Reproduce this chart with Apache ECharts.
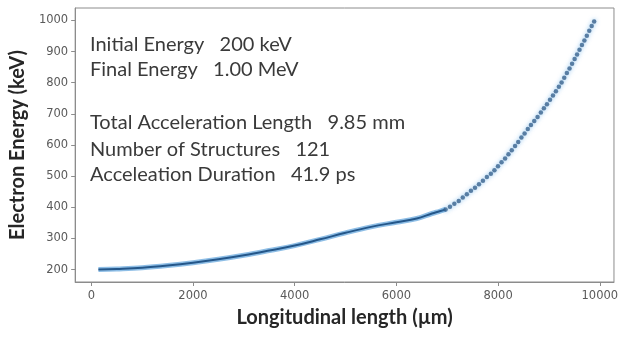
<!DOCTYPE html>
<html>
<head>
<meta charset="utf-8">
<script src="https://cdn.jsdelivr.net/npm/echarts@6/dist/echarts.min.js"></script>
<style>
html,body{margin:0;padding:0;background:#fff;}
#chart{width:621px;height:338px;}
</style>
</head>
<body>
<div id="chart"></div>
<script>
// Smooth (dense) part of the energy curve: longitudinal position (µm) and energy (keV)
const lowX = [140, 500, 1000, 1500, 2000, 2500, 3000, 3500, 4000, 4500, 5000, 5500, 6000, 6400, 6700, 6850, 6968];
const lowE = [200, 202, 206, 213, 222, 233, 246, 261, 277, 297, 318, 337, 352, 364, 380, 387, 393];

// Individually visible points above the knee
const dotX = [6968, 7054, 7140, 7226, 7306, 7386, 7466, 7546, 7624, 7702, 7780, 7858, 7928, 7998, 8068, 8138,
  8204, 8269, 8334, 8396, 8459, 8521, 8584, 8646, 8711, 8776, 8841, 8901, 8961, 9021, 9079, 9137, 9195,
  9249, 9301, 9353, 9405, 9455, 9505, 9553, 9601, 9649, 9697, 9745, 9793, 9841, 9889];
const dotE = [393, 402, 411, 420, 431, 442, 453, 463, 474, 485, 497, 508, 519, 532, 545, 557,
  570, 583, 597, 610, 624, 637, 651, 664, 677, 690, 704, 718, 731, 745, 759, 773, 787,
  801, 816, 831, 846, 861, 876, 891, 906, 921, 936, 951, 967, 982, 997];

const xTicks = [0, 2000, 4000, 6000, 8000, 10000];
const yTicks = [200, 300, 400, 500, 600, 700, 800, 900, 1000];

const notes = [
  'Initial Energy   200 keV',
  'Final Energy   1.00 MeV',
  '',
  'Total Acceleration Length   9.85 mm',
  'Number of Structures   121',
  'Acceleation Duration   41.9 ps'
];
const xName = 'Longitudinal length (\u00b5m)';
const yName = 'Electron Energy (keV)';

const lowData = lowX.map((x, i) => [x, lowE[i]]);
const dotData = dotX.map((x, i) => [x, dotE[i]]);

const chart = echarts.init(document.getElementById('chart'), null, {renderer: 'canvas'});
const noteTop = [47, 72, 98, 125, 152, 177];
const option = {
  animation: false,
  backgroundColor: '#fff',
  grid: {left: 72, right: 5, top: 8, bottom: 56, show: true, borderColor: '#8c8c8c', borderWidth: 1, backgroundColor: 'transparent'},
  xAxis: {
    type: 'value', min: -317, max: 10279,
    name: xName, nameLocation: 'middle', nameGap: 26,
    nameTextStyle: {fontFamily: 'Lato', fontWeight: 'bold', fontSize: 20, color: '#262626'},
    axisLine: {show: true, onZero: false, lineStyle: {color: '#8c8c8c', width: 1}},
    axisTick: {show: true, length: 4, customValues: xTicks, lineStyle: {color: '#8c8c8c'}},
    axisLabel: {customValues: xTicks, formatter: v => String(v), fontFamily: 'DejaVu Sans', fontSize: 11.5, color: '#5a5a5a', margin: 8},
    splitLine: {show: false}
  },
  yAxis: {
    type: 'value', min: 160, max: 1040,
    name: yName, nameLocation: 'middle', nameGap: 44,
    nameTextStyle: {fontFamily: 'Lato', fontWeight: 'bold', fontSize: 20, color: '#262626'},
    axisLine: {show: true, onZero: false, lineStyle: {color: '#8c8c8c', width: 1}},
    axisTick: {show: true, length: 4, customValues: yTicks, lineStyle: {color: '#8c8c8c'}},
    axisLabel: {customValues: yTicks, formatter: v => String(v), fontFamily: 'DejaVu Sans', fontSize: 11.5, color: '#5a5a5a', margin: 7},
    splitLine: {show: false}
  },
  graphic: notes.map((t, i) => ({
    type: 'text', left: 90, top: noteTop[i] - 12,
    style: {text: t, fontFamily: 'Lato', fontSize: 20, fill: '#3a3a3a'}
  })),
  series: [
    {type: 'line', data: lowData, smooth: 0.4, showSymbol: false,
      lineStyle: {color: '#5ea3dc', width: 5, opacity: 0.7}, z: 2},
    {type: 'line', data: lowData, smooth: 0.4, showSymbol: false,
      lineStyle: {color: '#24578a', width: 2}, z: 3},
    {type: 'scatter', data: dotData, symbolSize: 4.5,
      itemStyle: {color: '#3a628c', shadowColor: 'rgba(90,170,235,0.8)', shadowBlur: 4}, z: 4}
  ]
};
chart.setOption(option);
</script>
</body>
</html>
